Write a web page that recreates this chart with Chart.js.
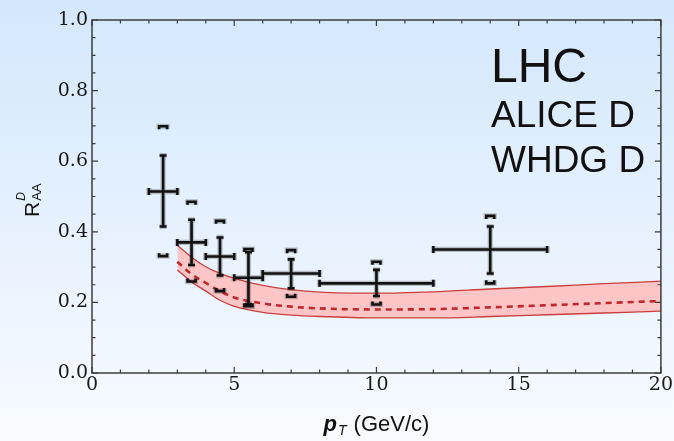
<!DOCTYPE html>
<html>
<head>
<meta charset="utf-8">
<script src="https://cdn.jsdelivr.net/npm/chart.js@4/dist/chart.umd.min.js"></script>
<style>
  html, body { margin: 0; padding: 0; }
  #wrap { width: 674px; height: 441px; position: relative; }
</style>
</head>
<body>
<div id="wrap"><canvas id="raaChart"></canvas></div>
<script>
// ALICE D data: bin centres, bin edges, R_AA, stat and syst limits
const ptCenter = [2.5, 3.5, 4.5, 5.5, 7, 10, 14];
const ptLow = [2, 3, 4, 5, 6, 8, 12];
const ptHigh = [3, 4, 5, 6, 8, 12, 16];
const raa = [0.514, 0.370, 0.330, 0.270, 0.282, 0.254, 0.350];
const statLow = [0.415, 0.306, 0.276, 0.195, 0.240, 0.218, 0.282];
const statHigh = [0.616, 0.434, 0.384, 0.342, 0.322, 0.292, 0.415];
const systLow = [0.331, 0.259, 0.232, 0.189, 0.216, 0.194, 0.254];
const systHigh = [0.699, 0.485, 0.431, 0.351, 0.348, 0.315, 0.445];

// WHDG D band
const bandPt = [3, 3.5, 4, 4.5, 5, 6, 7, 8, 10, 12, 14, 16, 18, 20];
const bandUpper = [0.362, 0.328, 0.301, 0.282, 0.268, 0.248, 0.236, 0.229, 0.226, 0.230, 0.238, 0.245, 0.253, 0.260];
const bandMid = [0.315, 0.280, 0.255, 0.232, 0.214, 0.197, 0.188, 0.183, 0.180, 0.181, 0.186, 0.192, 0.198, 0.204];
const bandLower = [0.292, 0.258, 0.232, 0.206, 0.189, 0.172, 0.164, 0.160, 0.156, 0.156, 0.160, 0.165, 0.170, 0.175];

const toXY = (xs, ys) => xs.map((x, i) => ({ x: x, y: ys[i] }));
const tickFont = { family: "'DejaVu Serif', serif", size: 19 };

// background gradient
const bgPlugin = {
  id: "bg",
  beforeDraw(chart) {
    const c = chart.ctx;
    const g = c.createLinearGradient(0, 0, 0, chart.height);
    g.addColorStop(0, "#d3e7fc");
    g.addColorStop(1, "#f8fbff");
    c.save();
    c.fillStyle = g;
    c.fillRect(0, 0, chart.width, chart.height);
    c.restore();
  },
};

// inward ticks on all four sides + frame
const framePlugin = {
  id: "frame",
  afterDraw(chart) {
    const c = chart.ctx;
    const a = chart.chartArea;
    const xs = chart.scales.x;
    const ys = chart.scales.y;
    c.save();
    c.strokeStyle = "#3c3c3c";
    c.lineWidth = 1.5;
    c.strokeRect(a.left, a.top, a.right - a.left, a.bottom - a.top);
    c.lineWidth = 1.2;
    c.beginPath();
    xs.ticks.forEach((t) => {
      const px = xs.getPixelForValue(t.value);
      const len = t.label !== "" ? 6 : 3.5;
      c.moveTo(px, a.bottom); c.lineTo(px, a.bottom - len);
      c.moveTo(px, a.top); c.lineTo(px, a.top + len);
    });
    ys.ticks.forEach((t) => {
      const py = ys.getPixelForValue(t.value);
      const len = t.label !== "" ? 6 : 3.5;
      c.moveTo(a.left, py); c.lineTo(a.left + len, py);
      c.moveTo(a.right, py); c.lineTo(a.right - len, py);
    });
    c.stroke();
    c.restore();
  },
};

// error bars, syst brackets, axis titles, labels
const errPlugin = {
  id: "err",
  afterDatasetsDraw(chart) {
    const c = chart.ctx;
    const xs = chart.scales.x;
    const ys = chart.scales.y;
    const X = (v) => xs.getPixelForValue(v);
    const Y = (v) => ys.getPixelForValue(v);
    const cap = 3.5;
    const bw = 4;

    function pathAll() {
      c.beginPath();
      for (let i = 0; i < ptCenter.length; i++) {
        const xc = X(ptCenter[i]);
        const yc = Y(raa[i]);
        // stat vertical
        c.moveTo(xc, Y(statLow[i])); c.lineTo(xc, Y(statHigh[i]));
        c.moveTo(xc - cap, Y(statLow[i])); c.lineTo(xc + cap, Y(statLow[i]));
        c.moveTo(xc - cap, Y(statHigh[i])); c.lineTo(xc + cap, Y(statHigh[i]));
        // bin width
        c.moveTo(X(ptLow[i]), yc); c.lineTo(X(ptHigh[i]), yc);
        c.moveTo(X(ptLow[i]), yc - cap); c.lineTo(X(ptLow[i]), yc + cap);
        c.moveTo(X(ptHigh[i]), yc - cap); c.lineTo(X(ptHigh[i]), yc + cap);
        // syst brackets
        const yt = Y(systHigh[i]);
        c.moveTo(xc - bw, yt + 3); c.lineTo(xc - bw, yt); c.lineTo(xc + bw, yt); c.lineTo(xc + bw, yt + 3);
        const yb = Y(systLow[i]);
        c.moveTo(xc - bw, yb - 3); c.lineTo(xc - bw, yb); c.lineTo(xc + bw, yb); c.lineTo(xc + bw, yb - 3);
      }
    }
    c.save();
    c.lineCap = "butt";
    c.strokeStyle = "rgba(0,0,0,0.22)";
    c.lineWidth = 5.2;
    pathAll(); c.stroke();
    c.strokeStyle = "#111";
    c.lineWidth = 2.6;
    pathAll(); c.stroke();
    c.restore();
  },
  afterDraw(chart) {
    const c = chart.ctx;
    const a = chart.chartArea;
    c.save();
    c.fillStyle = "#111";
    c.textBaseline = "alphabetic";
    c.textAlign = "left";

    // labels in the corner
    c.font = "48px 'Liberation Sans', Arial, sans-serif";
    c.fillText("LHC", 491, 82);
    c.font = "37px 'Liberation Sans', Arial, sans-serif";
    c.fillText("ALICE D", 491, 127);
    c.fillText("WHDG D", 491, 172);

    // x title: p_T (GeV/c)
    const main = "22px 'Liberation Sans', Arial, sans-serif";
    const pFont = "italic bold 22px 'Liberation Sans', Arial, sans-serif";
    const sub = "italic 14px 'Liberation Sans', Arial, sans-serif";
    c.font = pFont; const wP = c.measureText("p").width;
    c.font = sub; const wT = c.measureText("T").width;
    c.font = main; const wR = c.measureText(" (GeV/c)").width;
    const total = wP + wT + 2 + wR;
    let x0 = (a.left + a.right) / 2 - total / 2;
    const yb = 431;
    c.font = pFont; c.fillText("p", x0, yb); x0 += wP + 1;
    c.font = sub; c.fillText("T", x0, yb + 4); x0 += wT + 1;
    c.font = main; c.fillText(" (GeV/c)", x0, yb);

    // y title: R^D_AA
    c.translate(39, 217);
    c.rotate(-Math.PI / 2);
    c.font = "21px 'Liberation Sans', Arial, sans-serif";
    c.fillText("R", 0, 0);
    const wRr = c.measureText("R").width;
    c.font = "italic 12px 'Liberation Sans', Arial, sans-serif";
    c.fillText("D", wRr + 1, -14);
    c.font = "13px 'Liberation Sans', Arial, sans-serif";
    c.fillText("AA", wRr + 1, 2);
    c.restore();
  },
};

new Chart(document.getElementById("raaChart").getContext("2d"), {
  type: "scatter",
  data: {
    datasets: [
      {
        label: "WHDG upper",
        data: toXY(bandPt, bandUpper),
        showLine: true,
        pointRadius: 0,
        borderColor: "#c9403f",
        borderWidth: 1.3,
        backgroundColor: "rgba(255, 192, 192, 0.9)",
        fill: "+1",
        cubicInterpolationMode: "monotone",
      },
      {
        label: "WHDG lower",
        data: toXY(bandPt, bandLower),
        showLine: true,
        pointRadius: 0,
        borderColor: "#c9403f",
        borderWidth: 1.3,
        fill: false,
        cubicInterpolationMode: "monotone",
      },
      {
        label: "WHDG D",
        data: toXY(bandPt, bandMid),
        showLine: true,
        pointRadius: 0,
        borderColor: "#c0282d",
        borderWidth: 2.6,
        borderDash: [6, 5],
        fill: false,
        cubicInterpolationMode: "monotone",
      },
    ],
  },
  options: {
    responsive: true,
    maintainAspectRatio: false,
    animation: false,
    layout: { padding: { top: 20, right: 10, left: 0, bottom: 0 } },
    plugins: {
      legend: { display: false },
      tooltip: { enabled: false },
      filler: { drawTime: "beforeDatasetsDraw" },
    },
    scales: {
      x: {
        type: "linear",
        min: 0,
        max: 20,
        grid: { display: false, drawTicks: false },
        border: { display: false },
        afterFit: (s) => { s.height = 68; },
        ticks: {
          stepSize: 1,
          autoSkip: false,
          maxRotation: 0,
          padding: 1,
          color: "#1a1a1a",
          font: tickFont,
          callback: (v) => (v % 5 === 0 ? String(v) : ""),
        },
      },
      y: {
        min: 0,
        max: 1,
        grid: { display: false, drawTicks: false },
        border: { display: false },
        afterFit: (s) => { s.width = 92; },
        ticks: {
          stepSize: 0.05,
          autoSkip: false,
          padding: 4,
          color: "#1a1a1a",
          font: tickFont,
          callback: (v) => {
            const r = Math.round(v * 20);
            return r % 4 === 0 ? (r / 20).toFixed(1) : "";
          },
        },
      },
    },
  },
  plugins: [bgPlugin, framePlugin, errPlugin],
});
</script>
</body>
</html>
